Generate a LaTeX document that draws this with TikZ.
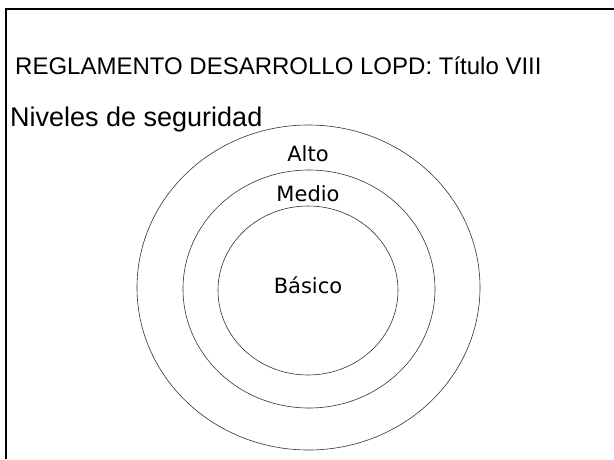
\documentclass[tikz,border=0pt]{standalone}
\usepackage{fontspec}
\setmainfont{Liberation Sans}
\newfontfamily\ringfont{DejaVu Sans}
\begin{document}
\begin{tikzpicture}[x=1pt,y=-1pt,
  ring/.style={draw=black!80, line width=0.6pt},
  ringlabel/.style={anchor=base, inner sep=0pt, font=\ringfont\fontsize{21}{24}\selectfont},
  heading/.style={anchor=base west, inner sep=0pt}]
\useasboundingbox (0,0) rectangle (614,459);
\fill[white] (0,0) rectangle (614,459);
\draw[line width=2pt] (614,9) -- (6,9) -- (6,459);
\node[heading] (title) at (15,74) {\fontsize{24}{28}\selectfont REGLAMENTO DESARROLLO LOPD: Título VIII};
\node[heading] (sub) at (10,126) {\fontsize{27}{32}\selectfont Niveles de seguridad};
\draw[ring] (308.5,287.5) ellipse [x radius=171.5, y radius=162.5];
\draw[ring] (309,289) ellipse [x radius=126, y radius=119];
\draw[ring] (308,290.5) ellipse [x radius=90, y radius=84.5];
\node[ringlabel] (alto) at (308,161.5) {Alto};
\node[ringlabel] (medio) at (308,201.5) {Medio};
\node[ringlabel] (basico) at (308,293) {Básico};
\end{tikzpicture}
\end{document}
